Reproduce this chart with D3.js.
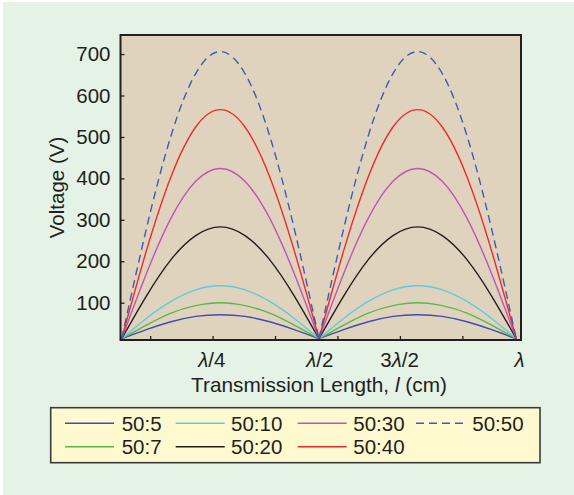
<!DOCTYPE html>
<html><head><meta charset="utf-8">
<script src="https://cdn.jsdelivr.net/npm/d3@7"></script>
<style>
html,body{margin:0;padding:0;background:#ffffff;}
svg{display:block;}
text{font-family:"Liberation Sans",Arial,Helvetica,sans-serif;fill:#231f20;}
</style></head>
<body><svg id="c" width="574" height="495"></svg>
<script>
// ---- data (x in units of wavelength λ, voltage in V) ----
const xValues = [0, 0.0625, 0.125, 0.1875, 0.25, 0.3125, 0.375, 0.4375, 0.5,
                 0.5625, 0.625, 0.6875, 0.75, 0.8125, 0.875, 0.9375, 1];
const seriesNames = ["50:5", "50:7", "50:10", "50:20", "50:30", "50:40", "50:50"];
const v50_5  = [13, 35, 54, 67, 71, 67, 54, 35, 13, 35, 54, 67, 71, 67, 54, 35, 13];
const v50_7  = [13, 46, 75, 93, 100, 93, 75, 46, 13, 46, 75, 93, 100, 93, 75, 46, 13];
const v50_10 = [13, 62, 103, 131, 141, 131, 103, 62, 13, 62, 103, 131, 141, 131, 103, 62, 13];
const v50_20 = [13, 116, 204, 262, 283, 262, 204, 116, 13, 116, 204, 262, 283, 262, 204, 116, 13];
const v50_30 = [13, 170, 304, 393, 424, 393, 304, 170, 13, 170, 304, 393, 424, 393, 304, 170, 13];
const v50_40 = [13, 225, 404, 524, 566, 524, 404, 225, 13, 225, 404, 524, 566, 524, 404, 225, 13];
const v50_50 = [13, 278, 503, 653, 706, 653, 503, 278, 13, 278, 503, 653, 706, 653, 503, 278, 13];
const seriesValues = [v50_5, v50_7, v50_10, v50_20, v50_30, v50_40, v50_50];
const seriesColors = ["#3a4fae", "#5ab84a", "#5fcae0", "#231f20", "#c155b5", "#ee2b2b", "#3c5cb8"];
const seriesDash   = [null, null, null, null, null, null, "8,5"];
const yTicks = [100, 200, 300, 400, 500, 600, 700];
const xTickMarks = [0.0722, 0.2304, 0.3886, 0.5468, 0.7051, 0.8633];
const xLabelValues = [0.227, 0.501, 0.703, 1.007];
const xLabelTexts = [["", "λ", "/4"], ["", "λ", "/2"], ["3", "λ", "/2"], ["", "λ", ""]];
const yTitle = "Voltage (V)";
const legendOrder = ["50:5", "50:7", "50:10", "50:20", "50:30", "50:40", "50:50"];

// ---- layout ----
const W = 574, H = 495;
const L = 120.5, R = 521, T = 35, B = 340;
const svg = d3.select("#c");

svg.append("rect").attr("x", 3).attr("y", 2).attr("width", W - 3).attr("height", H - 2).attr("fill", "#e5f3e6");

const x = d3.scaleLinear().domain([-0.003, 1.012]).range([L, R]);
const y = d3.scaleLinear().domain([10, 746]).range([B, T]);

svg.append("rect").attr("x", L).attr("y", T).attr("width", R - L).attr("height", B - T).attr("fill", "#e0d3bd");

svg.append("clipPath").attr("id", "pc").append("rect")
  .attr("x", L).attr("y", T).attr("width", R - L).attr("height", B - T);

// curves: each hump drawn separately so nodes stay sharp
const line = d3.line().x(d => x(d[0])).y(d => y(d[1])).curve(d3.curveNatural);
const gLines = svg.append("g").attr("clip-path", "url(#pc)");
seriesValues.forEach((vals, i) => {
  const pts = xValues.map((xv, j) => [xv, vals[j]]);
  [pts.slice(0, 9), pts.slice(8, 17)].forEach(seg => {
    gLines.append("path").attr("d", line(seg)).attr("fill", "none")
      .attr("stroke", seriesColors[i]).attr("stroke-width", 1.4)
      .attr("stroke-dasharray", seriesDash[i]);
  });
});

// axes
const yAxis = d3.axisLeft(y).tickValues(yTicks).tickSize(-4).tickPadding(10).tickSizeOuter(0);
const gy = svg.append("g").attr("transform", `translate(${L},0)`).call(yAxis);
gy.select(".domain").remove();
gy.selectAll("line").attr("stroke", "#231f20").attr("stroke-width", 1.3);
gy.selectAll("text").attr("font-size", 20.5).attr("fill", "#231f20");

const xAxisTicks = d3.axisBottom(x).tickValues(xTickMarks).tickSize(-4).tickFormat("").tickSizeOuter(0);
const gx = svg.append("g").attr("transform", `translate(0,${B})`).call(xAxisTicks);
gx.select(".domain").remove();
gx.selectAll("line").attr("stroke", "#231f20").attr("stroke-width", 1.3);

const xAxisLabels = d3.axisBottom(x).tickValues(xLabelValues).tickSize(0).tickPadding(12).tickFormat(() => "");
const gxl = svg.append("g").attr("transform", `translate(0,${B})`).call(xAxisLabels);
gxl.select(".domain").remove();
gxl.selectAll("text").attr("font-size", 20.5).each(function(d, i) {
  const t = d3.select(this);
  const parts = xLabelTexts[i];
  t.append("tspan").text(parts[0]);
  t.append("tspan").attr("font-style", "italic").text(parts[1]);
  t.append("tspan").text(parts[2]);
});

// frame
svg.append("rect").attr("x", L).attr("y", T).attr("width", R - L).attr("height", B - T)
  .attr("fill", "none").attr("stroke", "#231f20").attr("stroke-width", 2);

// axis titles
const xt = svg.append("text").attr("x", 319).attr("y", 391.5).attr("text-anchor", "middle").attr("font-size", 20.8);
xt.append("tspan").text("Transmission Length, ");
xt.append("tspan").attr("font-style", "italic").text("l");
xt.append("tspan").text(" (cm)");

svg.append("text").attr("transform", `translate(63.5,${(T + B) / 2}) rotate(-90)`)
  .attr("text-anchor", "middle").attr("font-size", 20.5).text(yTitle);

// legend
svg.append("rect").attr("x", 50.7).attr("y", 407.7).attr("width", 489.3).attr("height", 55)
  .attr("fill", "#fff9cf").attr("stroke", "#3a3a3a").attr("stroke-width", 1.6);
const colX = [65, 175.7, 297.7, 416];
const textX = [121.7, 231, 353.3, 472.3];
const rowY = [423.3, 446.7];
legendOrder.forEach((name, k) => {
  const i = seriesNames.indexOf(name);
  const c = Math.floor(k / 2), r = k % 2;
  svg.append("line").attr("x1", colX[c]).attr("x2", colX[c] + 49)
    .attr("y1", rowY[r]).attr("y2", rowY[r])
    .attr("stroke", seriesColors[i]).attr("stroke-width", 1.4)
    .attr("stroke-dasharray", seriesDash[i]);
  svg.append("text").attr("x", textX[c]).attr("y", rowY[r]).attr("dy", "0.36em")
    .attr("font-size", 20.5).text(name);
});
</script></body></html>
